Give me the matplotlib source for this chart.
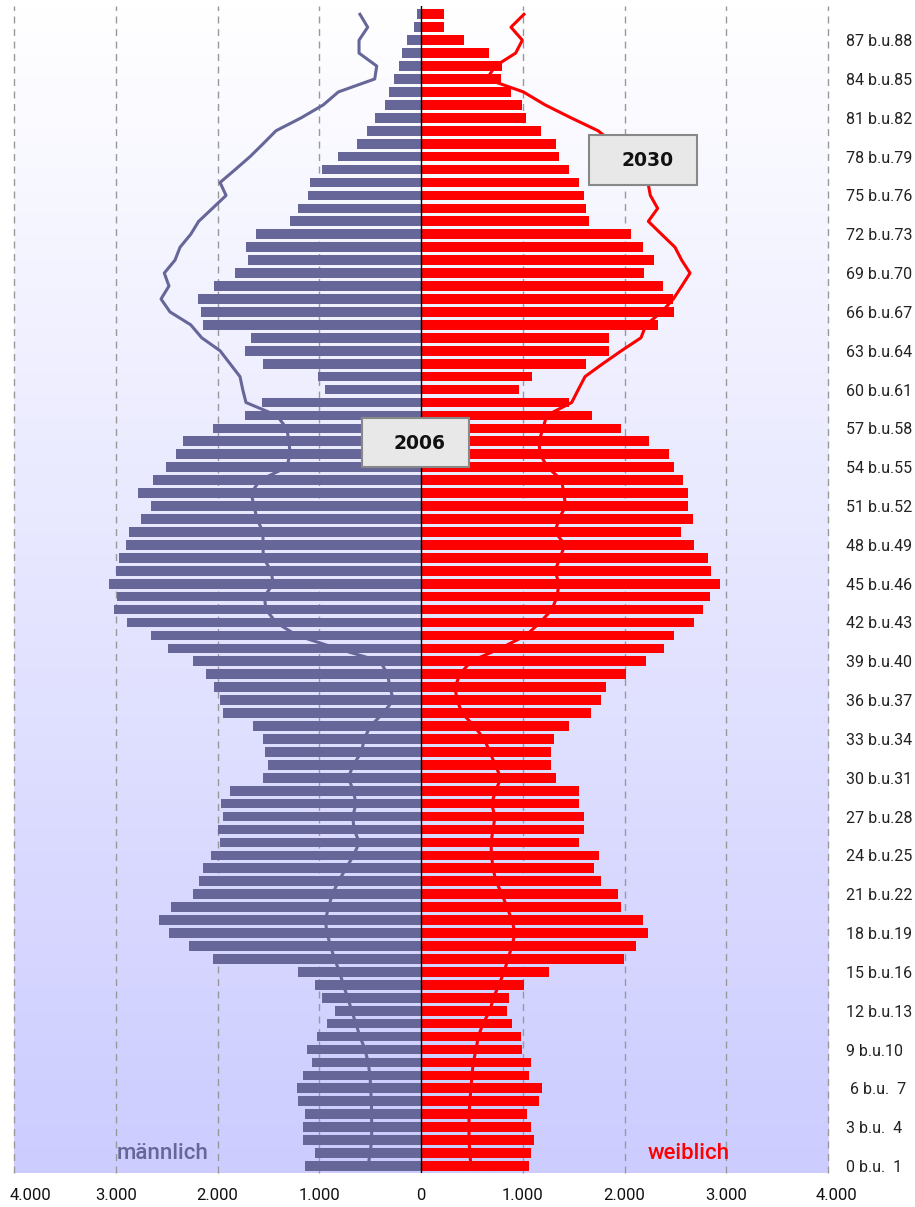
import numpy as np
import matplotlib
matplotlib.use("Agg")
import matplotlib.pyplot as plt
from matplotlib.patches import Rectangle
from matplotlib.transforms import ScaledTranslation

# ---------------- data ----------------
ages = list(range(90))

male_2006 = [1140, 1042, 1157, 1157, 1140, 1206, 1222, 1157, 1074, 1124,
             1025, 927, 845, 976, 1042, 1206, 2044, 2277, 2474, 2572,
             2457, 2244, 2179, 2142, 2061, 1978, 1995, 1946, 1962, 1880,
             1553, 1504, 1536, 1553, 1651, 1946, 1978, 2031, 2113, 2244,
             2490, 2654, 2886, 3017, 2985, 3066, 3001, 2968, 2899, 2867,
             2752, 2654, 2785, 2637, 2506, 2408, 2342, 2044, 1733, 1566,
             943, 1009, 1553, 1733, 1668, 2142, 2159, 2195, 2031, 1831,
             1700, 1717, 1618, 1287, 1206, 1107, 1091, 976, 812, 632,
             534, 449, 351, 317, 268, 219, 187, 138, 72, 42]

female_2006 = [1058, 1078, 1107, 1078, 1045, 1160, 1189, 1058, 1078, 996,
               980, 894, 845, 862, 1012, 1255, 1995, 2110, 2228, 2179,
               1966, 1933, 1766, 1700, 1749, 1553, 1602, 1602, 1553, 1553,
               1324, 1275, 1275, 1307, 1455, 1668, 1766, 1815, 2015, 2211,
               2392, 2490, 2686, 2768, 2837, 2935, 2853, 2820, 2686, 2558,
               2670, 2621, 2621, 2575, 2490, 2441, 2244, 1962, 1684, 1455,
               963, 1094, 1619, 1848, 1848, 2326, 2490, 2473, 2375, 2195,
               2293, 2179, 2061, 1651, 1619, 1602, 1553, 1455, 1356, 1324,
               1176, 1029, 996, 881, 783, 799, 665, 419, 223, 223]

male_2030 = [520, 500, 485, 485, 485, 488, 495, 501, 520, 550,
             600, 640, 681, 720, 764, 800, 850, 889, 924, 940,
             909, 872, 811, 737, 663, 606, 658, 671, 639, 665,
             715, 665, 583, 560, 496, 371, 272, 305, 329, 400,
             830, 1220, 1425, 1523, 1540, 1452, 1474, 1550, 1553, 1553,
             1612, 1641, 1670, 1582, 1320, 1287, 1297, 1320, 1418, 1720,
             1752, 1779, 1877, 1975, 2155, 2263, 2467, 2555, 2477, 2523,
             2418, 2368, 2263, 2185, 2050, 1916, 1975, 1826, 1680, 1551,
             1425, 1177, 960, 812, 455, 435, 609, 609, 524, 600]

female_2030 = [491, 480, 472, 472, 472, 480, 491, 501, 514, 541,
               563, 609, 678, 711, 767, 816, 855, 894, 924, 894,
               845, 796, 737, 708, 693, 688, 708, 727, 693, 734,
               786, 727, 678, 619, 521, 403, 354, 334, 383, 491,
               780, 1032, 1170, 1287, 1337, 1356, 1317, 1366, 1415, 1317,
               1356, 1422, 1402, 1383, 1244, 1170, 1160, 1199, 1235, 1481,
               1546, 1612, 1787, 1970, 2162, 2211, 2366, 2480, 2563, 2644,
               2562, 2496, 2364, 2234, 2326, 2254, 2230, 2150, 2030, 1900,
               1740, 1474, 1219, 1006, 646, 730, 930, 996, 884, 1012]

ytick_ages = list(range(0, 88, 3))
ytick_labels = ["0 b.u.  1", "3 b.u.  4", " 6 b.u.  7", "9 b.u.10",
                "12 b.u.13", "15 b.u.16", "18 b.u.19", "21 b.u.22",
                "24 b.u.25", "27 b.u.28", "30 b.u.31", "33 b.u.34",
                "36 b.u.37", "39 b.u.40", "42 b.u.43", "45 b.u.46",
                "48 b.u.49", "51 b.u.52", "54 b.u.55", "57 b.u.58",
                "60 b.u.61", "63 b.u.64", "66 b.u.67", "69 b.u.70",
                "72 b.u.73", "75 b.u.76", "78 b.u.79", "81 b.u.82",
                "84 b.u.85", "87 b.u.88"]

xticks = [-4000, -3000, -2000, -1000, 0, 1000, 2000, 3000, 4000]
xtick_labels = ["4.000", "3.000", "2.000", "1.000", "0",
                "1.000", "2.000", "3.000", "4.000"]

year_labels = ["2006", "2030"]
sex_labels = ["männlich", "weiblich"]

MALE_C = "#666699"
FEMALE_C = "#ff0000"

# ---------------- figure ----------------
fig = plt.figure(figsize=(9.15, 12.07), dpi=100)
ax = fig.add_axes([0.0153, 0.02842, 0.88962, 0.96661])
ymin, ymax = -0.52, 89.64
ax.set_xlim(-4000, 4000)
ax.set_ylim(ymin, ymax)

# gradient background
g = np.linspace(0, 1, 256).reshape(-1, 1, 1)
top = np.array([1.0, 1.0, 1.0]).reshape(1, 1, 3)
bot = np.array([0.80, 0.80, 1.0]).reshape(1, 1, 3)
img = top + (bot - top) * g
ax.imshow(img, extent=[-4000, 4000, ymin, ymax], origin="upper",
          aspect="auto", zorder=0, interpolation="bilinear")

# dashed grid
for xv in [-4000, -3000, -2000, -1000, 1000, 2000, 3000, 4000]:
    ax.axvline(xv, color="#999999", lw=1.0, linestyle=(0, (5, 4)),
               zorder=1, clip_on=False)

# bars
m = np.array(male_2006)
f = np.array(female_2006)
ax.barh(ages, -m, height=0.75, color=MALE_C, zorder=2)
ax.barh(ages, f, height=0.75, color=FEMALE_C, zorder=2)

# zero line
ax.axvline(0, color="black", lw=1.0, zorder=3)

# 2030 lines
ax.plot(-np.array(male_2030), ages, color=MALE_C, lw=2.2, zorder=4,
        solid_joinstyle="round")
ax.plot(np.array(female_2030), ages, color=FEMALE_C, lw=2.2, zorder=4,
        solid_joinstyle="round")

# year boxes
ax.add_patch(Rectangle((-580, 54.02), 1052, 3.78, facecolor="#e8e8e8",
                       edgecolor="#888888", lw=1.5, zorder=6))
ax.text(-15, 55.85, year_labels[0], ha="center", va="center",
        fontsize=13.5, fontweight="bold", color="#111111", zorder=7)
ax.add_patch(Rectangle((1651, 75.8), 1062, 3.88, facecolor="#e8e8e8",
                       edgecolor="#888888", lw=1.5, zorder=6))
ax.text(2231, 77.7, year_labels[1], ha="center", va="center",
        fontsize=13.5, fontweight="bold", color="#111111", zorder=7)

# sex labels
ax.text(-2988, 0.93, sex_labels[0], ha="left", va="center",
        fontsize=16, color=MALE_C, family="Roboto", fontweight="medium",
        zorder=7)
ax.text(2231, 0.93, sex_labels[1], ha="left", va="center",
        fontsize=16, color=FEMALE_C, family="Roboto", fontweight="medium",
        zorder=7)

# ticks
ax.yaxis.tick_right()
ax.set_yticks(ytick_ages)
ax.set_yticklabels(ytick_labels, family="Roboto", fontsize=11.5,
                   color="#222222")
ax.set_xticks(xticks)
ax.set_xticklabels(xtick_labels, family="Roboto", fontsize=12,
                   color="#111111")
ax.tick_params(axis="y", length=0, pad=13)
ax.tick_params(axis="x", length=0, pad=11)

xl = ax.get_xticklabels()
xl[0].set_transform(xl[0].get_transform() +
                    ScaledTranslation(17 / 100, 0, fig.dpi_scale_trans))
xl[-1].set_transform(xl[-1].get_transform() +
                     ScaledTranslation(8 / 100, 0, fig.dpi_scale_trans))

for s in ax.spines.values():
    s.set_visible(False)

fig.savefig("out.png", dpi=100, facecolor="white")
